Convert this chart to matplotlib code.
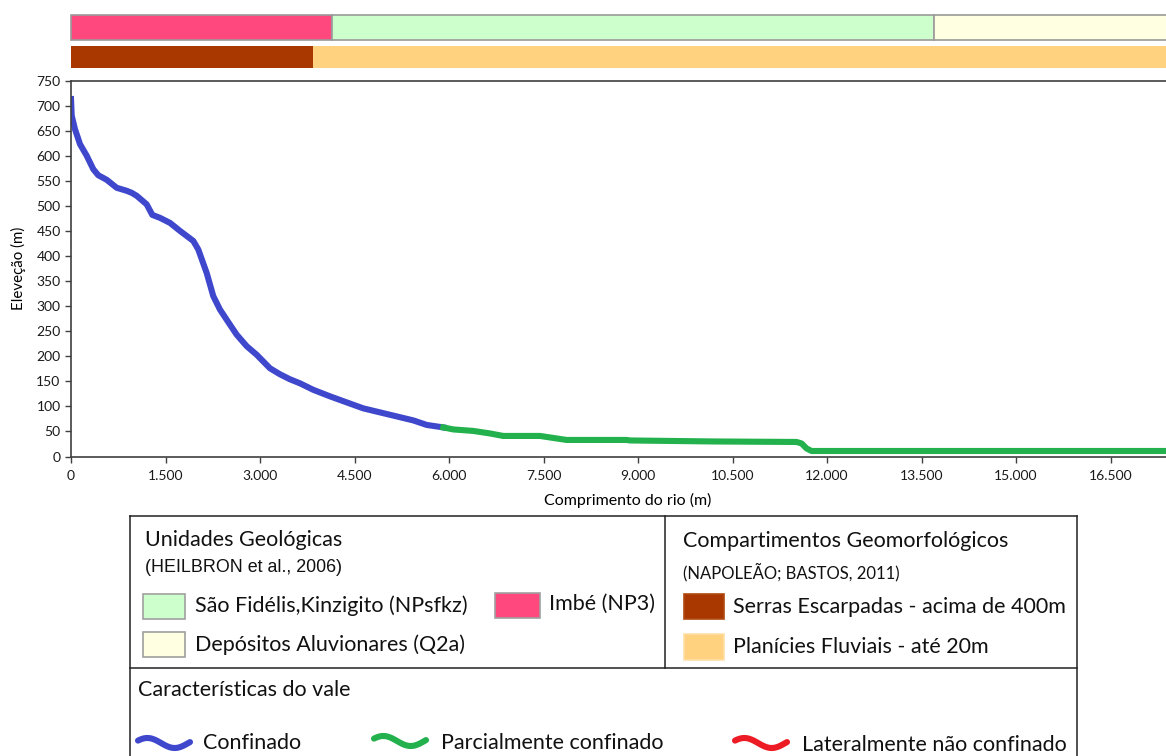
import numpy as np
import matplotlib
matplotlib.use("Agg")
import matplotlib.pyplot as plt
from matplotlib.patches import Rectangle
from matplotlib.lines import Line2D
from matplotlib.ticker import FuncFormatter

W, H = 1166, 756
plt.rcParams['font.family'] = ['Lato', 'DejaVu Sans']

# perfil longitudinal do rio (distancia em m, elevacao em m)
conf_x = [0, 11, 63, 143, 249, 354, 433, 566, 725, 884, 963, 1043, 1201, 1290,
          1413, 1571, 1730, 1941, 2020, 2154, 2258, 2365, 2523, 2630, 2789, 2947,
          3158, 3317, 3476, 3634, 3846, 4111, 4375, 4640, 4904, 5169, 5433, 5645, 5910]
conf_y = [713, 680, 653, 623, 600, 573, 561, 552, 536, 530, 526, 520, 503, 482,
          476, 466, 450, 430, 413, 366, 320, 293, 263, 243, 220, 203,
          176, 164, 154, 146, 133, 120, 108, 96, 88, 80, 72, 63, 58]
parc_x = [5910, 6068, 6385, 6650, 6861, 7444, 7603, 7867, 8819, 8872, 10194,
          11517, 11597, 11676, 11755, 17700]
parc_y = [58, 54, 51, 46, 41, 41, 38, 33, 33, 32, 30, 29, 26, 16, 11, 11]

# faixas de unidades geologicas e compartimentos geomorfologicos
geo_ini = [0, 4137, 13706]
geo_fim = [4137, 13706, 17700]
geo_cores = ["#FF487D", "#CCFFCC", "#FFFFE1"]
geom_ini = [0, 3835]
geom_fim = [3835, 17700]
geom_cores = ["#A83800", "#FFD27F"]

x_ticks = [0, 1500, 3000, 4500, 6000, 7500, 9000, 10500, 12000, 13500, 15000, 16500]
y_ticks = list(range(0, 751, 50))
x_max = 17700

azul = "#3F48CC"
verde = "#22B14C"
vermelho = "#ED1C24"


def fx(px):
    return px / W


def fy(py):
    return 1 - py / H


fig = plt.figure(figsize=(W / 100, H / 100), dpi=100)
left = fx(71)
width = x_max * 94.5 / 1500 / W

ax = fig.add_axes([left, fy(456.5), width, (456.5 - 80.5) / H])
ax.plot(conf_x, conf_y, color=azul, lw=4.4, solid_joinstyle='round')
ax.plot(parc_x, parc_y, color=verde, lw=4.4, solid_joinstyle='round')
ax.set_xlim(0, x_max)
ax.set_ylim(0, 750)
ax.set_xticks(x_ticks)
ax.set_yticks(y_ticks)
ax.xaxis.set_major_formatter(FuncFormatter(lambda v, p: f"{v:,.0f}".replace(",", ".")))
ax.tick_params(direction='out', length=4.5, width=1, color='#404040', labelsize=10,
               labelcolor='#1a1a1a', pad=3)
ax.tick_params(axis='x', pad=5)
for s in ['left', 'bottom', 'top']:
    ax.spines[s].set_color('#404040')
    ax.spines[s].set_linewidth(1.2)
ax.spines['right'].set_visible(False)
fig.text(fx(628), fy(500), "Comprimento do rio (m)", ha='center', va='center', fontsize=11.5)
fig.text(fx(18), fy(268), "Eleveção (m)", ha='center', va='center', fontsize=10.8, rotation=90)

# barras superiores
ax_geo = fig.add_axes([left, fy(40), width, 25 / H])
for a, b, c in zip(geo_ini, geo_fim, geo_cores):
    ax_geo.add_patch(Rectangle((a, 0), b - a, 1, facecolor=c, edgecolor='#9a9a9a',
                               lw=1.2, clip_on=False))
ax_geo.set_xlim(0, x_max)
ax_geo.set_ylim(0, 1)
ax_geo.axis('off')

ax_geom = fig.add_axes([left, fy(68), width, 22 / H])
for a, b, c in zip(geom_ini, geom_fim, geom_cores):
    ax_geom.add_patch(Rectangle((a, 0), b - a, 1, facecolor=c, edgecolor='none'))
ax_geom.set_xlim(0, x_max)
ax_geom.set_ylim(0, 1)
ax_geom.axis('off')

# quadro da legenda
def linha(x0, y0, x1, y1):
    fig.add_artist(Line2D([fx(x0), fx(x1)], [fy(y0), fy(y1)], color='#222222', lw=1.1))


linha(130, 515.5, 1077, 515.5)
linha(130, 515.5, 130, 760)
linha(1077, 515.5, 1077, 760)
linha(665, 515.5, 665, 668)
linha(130, 668, 1077, 668)


def caixa(x0, y0, x1, y1, cor, borda):
    fig.add_artist(Rectangle((fx(x0), fy(y1)), fx(x1) - fx(x0), fy(y0) - fy(y1),
                             facecolor=cor, edgecolor=borda, lw=1.2))


def texto(x, y, s, size, **kw):
    fig.text(fx(x), fy(y), s, ha='left', va='center', fontsize=size, color='#111111', **kw)


T = 15.5
texto(145, 540, "Unidades Geológicas", T)
texto(145, 568, "(HEILBRON et al., 2006)", 12.9, family='Liberation Sans')
caixa(143, 594, 185, 619, geo_cores[1], '#a0a0a0')
texto(195, 606, "São Fidélis,Kinzigito (NPsfkz)", T)
caixa(495, 593, 540, 618, geo_cores[0], '#a0a0a0')
texto(549, 604, "Imbé (NP3)", T)
caixa(143, 632, 185, 657, geo_cores[2], '#a0a0a0')
texto(195, 645, "Depósitos Aluvionares (Q2a)", T)

texto(683, 541, "Compartimentos Geomorfológicos", T)
texto(683, 572, "(NAPOLEÃO; BASTOS, 2011)", 12)
caixa(684, 594, 724, 619, geom_cores[0], '#b04a10')
texto(733, 607, "Serras Escarpadas - acima de 400m", T)
caixa(684, 634, 724, 660, geom_cores[1], '#ffe0a8')
texto(733, 647, "Planícies Fluviais - até 20m", T)

texto(138, 690, "Características do vale", T)


def onda(x0, y0, cor):
    t = np.linspace(0, 1, 40)
    xs = x0 + 52 * t
    ys = y0 - 5 * np.sin(2 * np.pi * t * 0.95 + 0.5)
    fig.add_artist(Line2D([fx(v) for v in xs], [fy(v) for v in ys], color=cor, lw=4.4,
                          solid_capstyle='round'))


onda(138, 743, azul)
texto(203, 743, "Confinado", T)
onda(374, 741, verde)
texto(441, 743, "Parcialmente confinado", T)
onda(735, 743, vermelho)
texto(802, 745, "Lateralmente não confinado", T)

fig.savefig("out.png", dpi=100)
